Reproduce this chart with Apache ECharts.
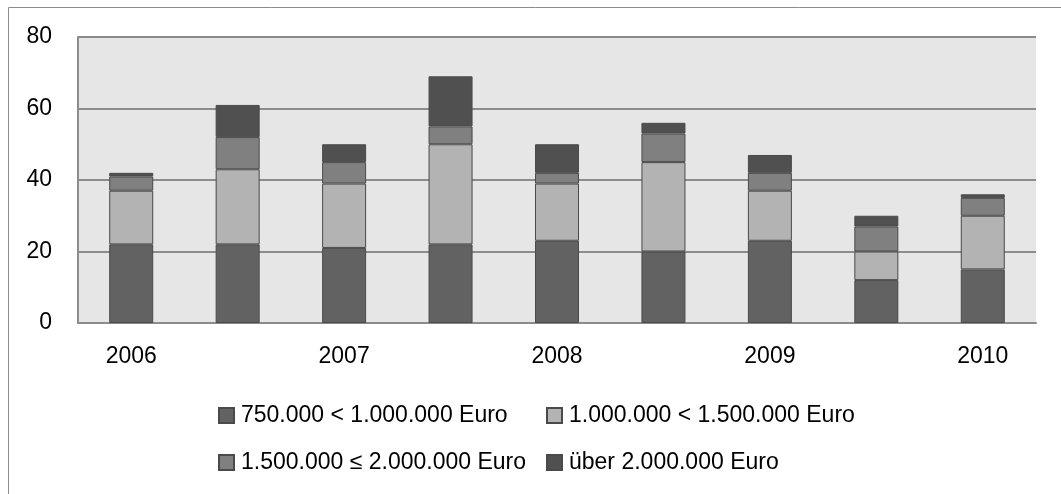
<!DOCTYPE html>
<html>
<head>
<meta charset="utf-8">
<script src="https://cdn.jsdelivr.net/npm/echarts@6/dist/echarts.min.js"></script>
<style>html,body{margin:0;padding:0;background:#fff;}#c{width:1061px;height:494px;}</style>
</head>
<body>
<div id="c"></div>
<script>
const categories = ['2006', '', '2007', '', '2008', '', '2009', '', '2010'];
const seriesNames = ['750.000 < 1.000.000 Euro', '1.000.000 < 1.500.000 Euro', '1.500.000 ≤ 2.000.000 Euro', 'über 2.000.000 Euro'];
const s750to1000k = [22, 22, 21, 22, 23, 20, 23, 12, 15];
const s1000to1500k = [15, 21, 18, 28, 16, 25, 14, 8, 15];
const s1500to2000k = [4, 9, 6, 5, 3, 8, 5, 7, 5];
const sOver2000k = [1, 9, 5, 14, 8, 3, 5, 3, 1];
const yTicks = [0, 20, 40, 60, 80];

const colors = ['#626262', '#b3b3b3', '#808080', '#505050'];
const values = [s750to1000k, s1000to1500k, s1500to2000k, sOver2000k];
const font = 'Liberation Sans';

const chart = echarts.init(document.getElementById('c'), null, {renderer: 'canvas'});
const legendBase = {
  orient: 'horizontal', itemWidth: 15, itemHeight: 15, itemGap: 0, icon: 'rect', padding: 0,
  textStyle: {fontFamily: font, fontSize: 23, color: '#000', padding: [0, 0, 0, 2]}, selectedMode: false
};
chart.setOption({
  animation: false,
  backgroundColor: '#fff',
  graphic: [{
    type: 'rect', shape: {x: 8.5, y: 7.5, width: 1200, height: 700},
    style: {fill: 'none', stroke: '#8c8c8c', lineWidth: 1}, silent: true
  }],
  grid: {left: 78, right: 25, top: 37, bottom: 171, show: true, backgroundColor: '#e6e6e6', borderWidth: 0},
  legend: [
    Object.assign({}, legendBase, {data: [seriesNames[0]], left: 218, top: 404}),
    Object.assign({}, legendBase, {data: [seriesNames[1]], left: 546, top: 404}),
    Object.assign({}, legendBase, {data: [seriesNames[2]], left: 218, top: 451}),
    Object.assign({}, legendBase, {data: [seriesNames[3]], left: 546, top: 451})
  ],
  xAxis: {
    type: 'category', data: categories,
    axisLine: {show: true, lineStyle: {color: '#8c8c8c', width: 2}},
    axisTick: {show: false},
    axisLabel: {interval: 0, margin: 22, fontFamily: font, fontSize: 23, color: '#000'}
  },
  yAxis: {
    type: 'value', min: yTicks[0], max: yTicks[yTicks.length - 1], interval: 20,
    axisLine: {show: true, lineStyle: {color: '#8c8c8c', width: 2}},
    axisTick: {show: false},
    axisLabel: {margin: 26, fontFamily: font, fontSize: 23, color: '#000'},
    splitLine: {show: true, lineStyle: {color: '#8c8c8c', width: 2}}
  },
  series: seriesNames.map((name, i) => ({
    name: name, type: 'bar', stack: 'total', data: values[i], barWidth: 44,
    itemStyle: {color: colors[i], borderColor: '#4a4a4a', borderWidth: 1}
  }))
});
</script>
</body>
</html>
